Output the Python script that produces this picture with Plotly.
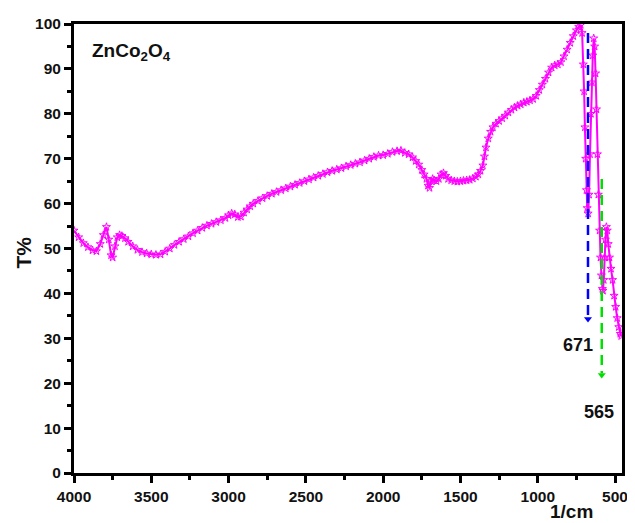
import plotly.graph_objects as go

wavenumber = [4000, 3970, 3940, 3910, 3880, 3855, 3830, 3810, 3790, 3775, 3760, 3750, 3735, 3720, 3705,
              3690, 3670, 3650, 3620, 3590, 3560, 3530, 3500, 3470, 3440, 3410, 3380, 3350, 3320, 3290,
              3260, 3230, 3200, 3170, 3140, 3110, 3080, 3050, 3020, 3000, 2980, 2960, 2940, 2920, 2900,
              2880, 2860, 2840, 2810, 2780, 2750, 2720, 2690, 2660, 2630, 2600, 2570, 2540, 2510, 2480,
              2450, 2420, 2390, 2360, 2330, 2300, 2270, 2240, 2210, 2180, 2150, 2120, 2090, 2060, 2030,
              2000, 1970, 1940, 1910, 1885, 1860, 1835, 1810, 1790, 1770, 1750, 1735, 1720, 1710, 1700,
              1690, 1680, 1670, 1655, 1640, 1625, 1610, 1595, 1580, 1560, 1540, 1520, 1500, 1480, 1460,
              1440, 1420, 1400, 1385, 1370, 1355, 1345, 1335, 1320, 1305, 1290, 1270, 1250, 1230, 1210,
              1190, 1170, 1150, 1130, 1110, 1090, 1070, 1050, 1030, 1010, 990, 970, 950, 930, 910,
              890, 870, 850, 830, 810, 790, 770, 750, 735, 722, 713, 705, 700, 695, 690,
              685, 680, 674, 668, 662, 656, 650, 644, 638, 632, 626, 620, 614, 608, 600,
              594, 588, 582, 578, 573, 568, 562, 556, 550, 544, 536, 526, 516, 506, 496,
              486, 476, 466, 460]
transmittance = [54.0, 52.5, 51.2, 50.3, 49.6, 49.4, 51.0, 53.0, 54.8, 52.0, 48.5, 48.0, 50.5, 52.5, 53.0,
                 52.8, 52.3, 51.5, 50.5, 49.7, 49.2, 48.9, 48.7, 48.6, 48.7, 49.3, 50.0, 50.8, 51.5, 52.1,
                 52.7, 53.4, 54.0, 54.6, 55.1, 55.5, 55.9, 56.3, 56.8, 57.4, 57.8, 57.6, 57.0, 57.1, 58.0,
                 58.7, 59.4, 60.0, 60.6, 61.2, 61.7, 62.2, 62.6, 63.0, 63.4, 63.8, 64.2, 64.6, 65.0, 65.4,
                 65.8, 66.2, 66.6, 67.0, 67.3, 67.6, 67.9, 68.3, 68.6, 68.9, 69.2, 69.6, 70.0, 70.4, 70.7,
                 70.8, 71.1, 71.5, 71.7, 71.8, 71.3, 71.0, 70.3, 69.5, 68.7, 67.5, 66.5, 65.5, 64.0, 63.5,
                 65.0, 65.5, 65.2, 65.0, 65.5, 66.5, 66.8, 66.2, 65.5, 65.2, 65.0, 64.9, 65.0, 65.1, 65.2,
                 65.3, 65.6, 66.0, 66.5, 67.3, 68.5, 70.5, 72.5, 74.5, 76.0, 77.0, 77.8, 78.4, 79.0, 79.6,
                 80.3, 80.9, 81.4, 81.8, 82.1, 82.5, 82.7, 83.0, 83.3, 84.0, 85.3, 86.5, 87.8, 89.2, 90.3,
                 90.8, 91.0, 91.5, 92.8, 94.3, 95.8, 97.3, 98.6, 99.4, 99.8, 98.0, 91.0, 85.0, 77.0, 70.0,
                 63.0, 59.0, 57.8, 62.0, 71.0, 80.0, 87.0, 93.0, 96.8, 95.0, 89.0, 81.0, 71.0, 62.0, 54.0,
                 48.0, 44.0, 41.0, 40.6, 43.0, 48.0, 52.0, 54.8, 54.0, 51.0, 48.0, 45.5, 43.0, 39.5, 37.0,
                 34.5, 32.5, 31.0, 30.5]

arrow_x = [675, 586]
arrow_top = [98.0, 65.5]
arrow_bottom = [33.5, 21.0]
arrow_colors = ["#0000ff", "#00e000"]
peak_labels = ["671", "565"]
label_x = [739, 605]
label_y = [28.6, 13.5]

x_ticks = [4000, 3500, 3000, 2500, 2000, 1500, 1000, 500]
y_ticks = [0, 10, 20, 30, 40, 50, 60, 70, 80, 90, 100]

font_family = "Liberation Sans, Arial, sans-serif"
ink = "#111111"

fig = go.Figure()
fig.add_trace(go.Scatter(
    x=wavenumber, y=transmittance, mode="lines+markers",
    line=dict(color="#ff00ff", width=2),
    marker=dict(symbol="star-open", size=6, color="#ff00ff", line=dict(width=1, color="#ff00ff")),
    showlegend=False, hoverinfo="skip"))

for ax_, yt, yb, c in zip(arrow_x, arrow_top, arrow_bottom, arrow_colors):
    fig.add_trace(go.Scatter(x=[ax_, ax_], y=[yt, yb + 1.2], mode="lines",
                             line=dict(color=c, width=2.5, dash="10px,6px"),
                             showlegend=False, hoverinfo="skip"))
    fig.add_trace(go.Scatter(x=[ax_], y=[yb + 0.8], mode="markers",
                             marker=dict(symbol="triangle-down", size=7, color=c),
                             showlegend=False, hoverinfo="skip"))

for t, lx, ly in zip(peak_labels, label_x, label_y):
    fig.add_annotation(x=lx, y=ly, xref="x", yref="y", text=t, showarrow=False,
                       xanchor="center", yanchor="middle",
                       font=dict(size=18, color=ink, family=font_family, weight="bold"))

fig.add_annotation(x=3898, y=93.8, xref="x", yref="y", xanchor="left", yanchor="middle",
                   text="ZnCo<sub>2</sub>O<sub>4</sub>", showarrow=False,
                   font=dict(size=19, color=ink, family=font_family, weight="bold"))
fig.add_annotation(x=784, y=-0.085, xref="x", yref="paper", text="1/cm", showarrow=False,
                   xanchor="center", yanchor="middle",
                   font=dict(size=19, color=ink, family=font_family, weight="bold"))
fig.add_annotation(x=-0.092, y=0.49, xref="paper", yref="paper", text="T%", textangle=-90,
                   xanchor="center", yanchor="middle",
                   showarrow=False, font=dict(size=21, color=ink, family=font_family, weight="bold"))

axis_common = dict(showline=True, linecolor="black", linewidth=3, mirror=True, showgrid=False,
                   zeroline=False, ticks="outside", ticklen=7, tickwidth=2.5, tickcolor="black",
                   tickfont=dict(size=15.5, color=ink, family=font_family, weight="bold"))

fig.update_xaxes(range=[4000, 455], tickvals=x_ticks,
                 minor=dict(ticks="outside", ticklen=4, tickwidth=2.5, tickcolor="black", dtick=250, tick0=500),
                 **axis_common)
fig.update_yaxes(range=[0, 100], tickvals=y_ticks,
                 minor=dict(ticks="outside", ticklen=4, tickwidth=2.5, tickcolor="black", dtick=5, tick0=0),
                 **axis_common)

# the page adds an 8px body margin, so the figure is sized to fit the 635x523 window
fig.update_layout(width=627, height=515, margin=dict(l=66, r=7, t=14, b=50),
                  plot_bgcolor="white", paper_bgcolor="white")

fig.write_html("out.html")
